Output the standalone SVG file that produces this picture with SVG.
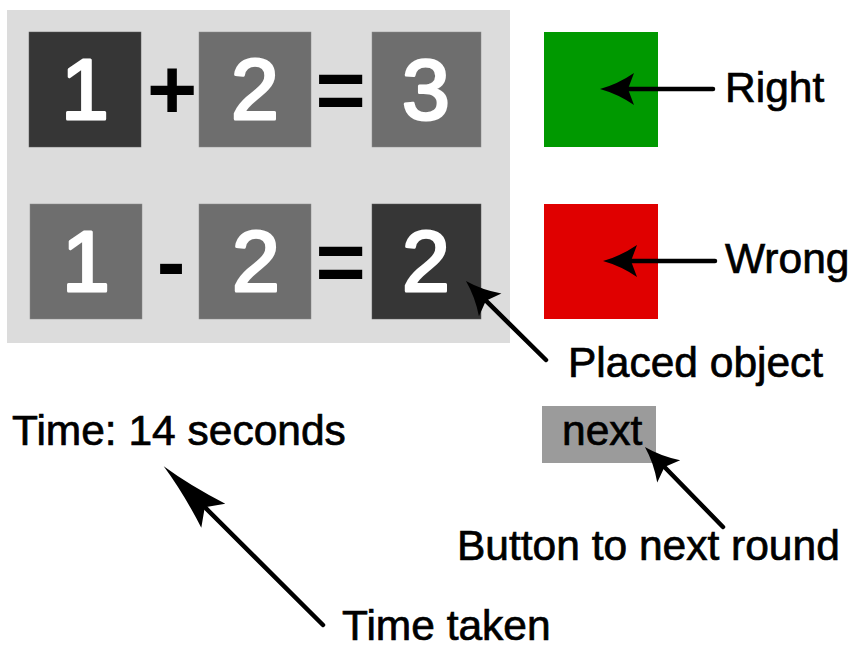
<svg xmlns="http://www.w3.org/2000/svg" width="851" height="650" viewBox="0 0 851 650">
  <style>
    .lbl { font-family: "Liberation Sans", Arial, sans-serif; font-size: 42.5px; fill: #000; stroke: #000; stroke-width: 0.7; }
    .dig { font-family: "Liberation Sans", Arial, sans-serif; font-size: 86px; fill: #fff; stroke: #fff; stroke-width: 3; stroke-linejoin: round; text-anchor: middle; }
    .op { font-family: "Liberation Sans", Arial, sans-serif; font-size: 86px; font-weight: bold; fill: #000; text-anchor: middle; }
    .dark { fill: #363636; stroke: #5a5a5a; stroke-width: 0.5; }
    .mid { fill: #6e6e6e; stroke: #8a8a8a; stroke-width: 0.5; }
    .conn { stroke: #000; stroke-width: 4.5; fill: none; stroke-linecap: round; }
  </style>
  <defs>
    <marker id="ah" viewBox="-8 -18 38 36" markerWidth="38" markerHeight="36" refX="0" refY="0" orient="auto" markerUnits="userSpaceOnUse">
      <path d="M28,0 Q10,-5 -6,-16 L0,0 L-6,16 Q10,5 28,0 Z" fill="#000"/>
    </marker>
    <marker id="ahl" viewBox="-14 -19 74 38" markerWidth="74" markerHeight="38" refX="0" refY="0" orient="auto" markerUnits="userSpaceOnUse">
      <path d="M58,0 Q25,-5 -12,-17 L0,0 L-12,17 Q25,5 58,0 Z" fill="#000"/>
    </marker>
  </defs>

  <g id="board">
    <rect x="7" y="10" width="503" height="333" fill="#dcdcdc"/>
  </g>

  <g id="row1">
    <g id="r1-a"><rect class="dark" x="29" y="32" width="112" height="115"/><text class="dig" x="85" y="119">1</text></g>
    <g id="r1-op"><text class="op" x="172" y="119">+</text></g>
    <g id="r1-b"><rect class="mid" x="199" y="32" width="112" height="115"/><text class="dig" x="255" y="119">2</text></g>
    <g id="r1-eq"><text class="op" x="340.5" y="119">=</text></g>
    <g id="r1-c"><rect class="mid" x="372" y="32" width="109" height="115"/><text class="dig" x="426" y="119">3</text></g>
  </g>

  <g id="row2">
    <g id="r2-a"><rect class="mid" x="30" y="204" width="112" height="115"/><text class="dig" x="86" y="291">1</text></g>
    <g id="r2-op"><text class="op" x="171" y="291">-</text></g>
    <g id="r2-b"><rect class="mid" x="199" y="204" width="112" height="115"/><text class="dig" x="256" y="291">2</text></g>
    <g id="r2-eq"><text class="op" x="340.5" y="291">=</text></g>
    <g id="r2-c"><rect class="dark" x="372" y="204" width="109" height="115"/><text class="dig" x="426" y="291">2</text></g>
  </g>

  <g id="right-box"><rect x="544" y="32" width="114" height="115" fill="#009900"/></g>
  <g id="wrong-box"><rect x="544" y="204" width="114" height="115" fill="#e00000"/></g>

  <g id="next-button">
    <rect x="542" y="406" width="114" height="57" fill="#9b9b9b"/>
    <text class="lbl" x="562" y="445">next</text>
  </g>

  <g id="timer"><text class="lbl" x="12" y="445">Time: 14 seconds</text></g>

  <g id="label-right"><text class="lbl" x="725" y="102">Right</text></g>
  <g id="label-wrong"><text class="lbl" x="725" y="273">Wrong</text></g>
  <g id="label-placed"><text class="lbl" x="568" y="377">Placed object</text></g>
  <g id="label-button"><text class="lbl" x="457" y="560">Button to next round</text></g>
  <g id="label-time"><text class="lbl" x="342" y="640">Time taken</text></g>

  <g id="connectors">
    <line class="conn" x1="713" y1="89" x2="628" y2="89" marker-end="url(#ah)"/>
    <line class="conn" x1="715" y1="261" x2="631" y2="261" marker-end="url(#ah)"/>
    <line class="conn" x1="546" y1="360" x2="485.9" y2="300.7" marker-end="url(#ah)"/>
    <line class="conn" x1="723" y1="527" x2="664.5" y2="467" marker-end="url(#ah)"/>
    <line class="conn" x1="323" y1="625" x2="204.8" y2="507.2" marker-end="url(#ahl)"/>
  </g>
</svg>
